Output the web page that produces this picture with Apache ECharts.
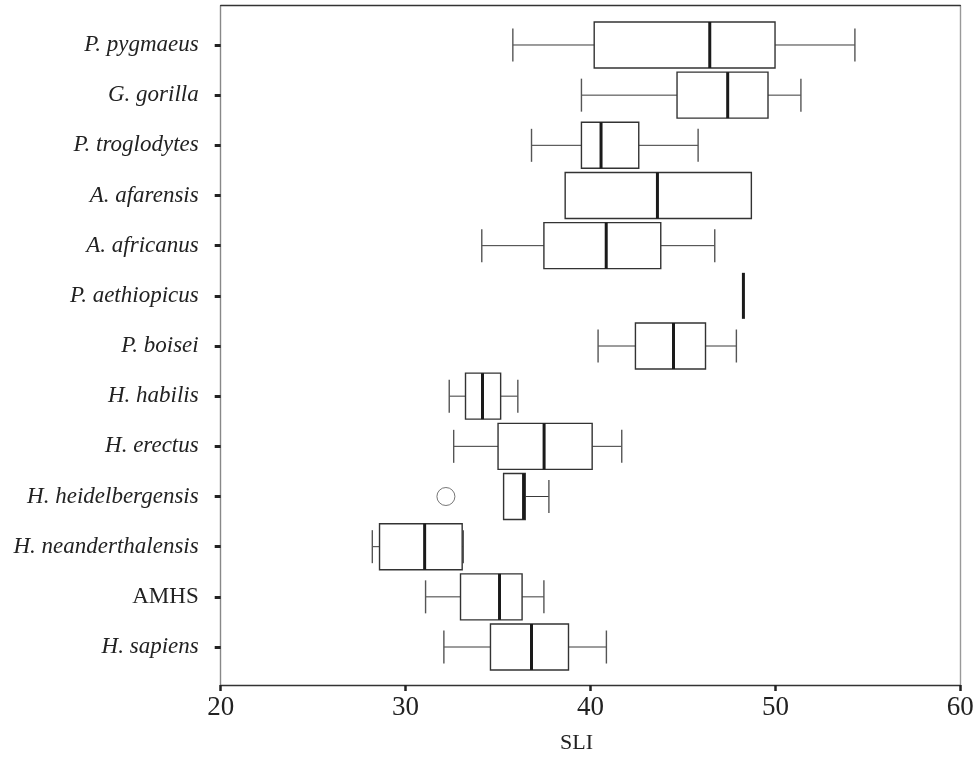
<!DOCTYPE html>
<html>
<head>
<meta charset="utf-8">
<style>
  html, body { margin: 0; padding: 0; background: #fff; }
  #chart-container { width: 979px; height: 759px; }
</style>
<script src="https://cdn.jsdelivr.net/npm/echarts@6/dist/echarts.min.js"></script>
</head>
<body>
<div id="chart-container"></div>
<script>
// species from top to bottom
const species = [
    'P. pygmaeus', 'G. gorilla', 'P. troglodytes', 'A. afarensis',
    'A. africanus', 'P. aethiopicus', 'P. boisei', 'H. habilis',
    'H. erectus', 'H. heidelbergensis', 'H. neanderthalensis', 'AMHS',
    'H. sapiens'
];
const whiskerLow = [35.8, 39.51, 36.81, 38.63, 34.12, 48.27, 40.41, 32.36, 32.6, 35.3, 28.2, 31.08, 32.07];
const q1 = [40.2, 44.68, 39.51, 38.63, 37.48, 48.27, 42.43, 33.24, 35.0, 35.3, 28.59, 32.97, 34.59];
const median = [46.45, 47.42, 40.57, 43.62, 40.85, 48.27, 44.49, 34.16, 37.49, 36.38, 31.03, 35.08, 36.81];
const q3 = [49.98, 49.6, 42.61, 48.7, 43.8, 48.27, 46.22, 35.14, 40.09, 36.47, 33.06, 36.3, 38.81];
const whiskerHigh = [54.3, 51.38, 45.82, 48.7, 46.72, 48.27, 47.89, 36.07, 41.69, 37.75, 33.12, 37.48, 40.86];
// outliers: [SLI, species]
const outliers = [[32.18, 'H. heidelbergensis']];
const xTicks = { min: 20, max: 60, interval: 10 };

var dom = document.getElementById('chart-container');
var myChart = echarts.init(dom, null, { renderer: 'canvas' });
var option;

const serif = 'Liberation Serif';
const boxHalf = 23;
const capHalf = 16.5;

const boxData = species.map(function (name, i) {
    return [i, whiskerLow[i], q1[i], median[i], q3[i], whiskerHigh[i]];
});

const renderBox = function (param, api) {
    const idx = api.value(0);
    const lo = api.coord([api.value(1), idx]);
    const b1 = api.coord([api.value(2), idx]);
    const md = api.coord([api.value(3), idx]);
    const b3 = api.coord([api.value(4), idx]);
    const hi = api.coord([api.value(5), idx]);
    const y = md[1];
    const children = [];
    const thin = { stroke: '#3a3a3a', lineWidth: 1 };
    const cap = { stroke: '#555', lineWidth: 1.4 };
    if (b1[0] - lo[0] > 0.5) {
        children.push({ type: 'line', shape: { x1: lo[0], y1: y, x2: b1[0], y2: y }, style: thin });
        children.push({ type: 'line', shape: { x1: lo[0], y1: y - capHalf, x2: lo[0], y2: y + capHalf }, style: cap });
    }
    if (hi[0] - b3[0] > 0.5) {
        children.push({ type: 'line', shape: { x1: b3[0], y1: y, x2: hi[0], y2: y }, style: thin });
        children.push({ type: 'line', shape: { x1: hi[0], y1: y - capHalf, x2: hi[0], y2: y + capHalf }, style: cap });
    }
    if (b3[0] - b1[0] > 0.5) {
        children.push({
            type: 'rect',
            shape: { x: b1[0], y: y - boxHalf, width: b3[0] - b1[0], height: boxHalf * 2 },
            style: { fill: '#fff', stroke: '#333', lineWidth: 1.4 }
        });
    }
    children.push({
        type: 'line',
        shape: { x1: md[0], y1: y - boxHalf, x2: md[0], y2: y + boxHalf },
        style: { stroke: '#1a1a1a', lineWidth: 3 }
    });
    return { type: 'group', children: children };
};

option = {
    backgroundColor: '#fff',
    animation: false,
    grid: [
        { left: 220.7, right: 18.7, top: 5.7, bottom: 72.3 },
        { left: 220.7, right: 18.7, top: 19.9, height: 652.2 }
    ],
    xAxis: [
        {
            gridIndex: 0,
            type: 'value',
            min: xTicks.min,
            max: xTicks.max,
            interval: xTicks.interval,
            position: 'bottom',
            name: 'SLI',
            nameLocation: 'middle',
            nameGap: 47,
            nameTextStyle: { fontFamily: serif, fontSize: 22, color: '#222', padding: [0, 28, 0, 0] },
            axisLine: { show: true, onZero: false, lineStyle: { color: '#333', width: 1.4 } },
            axisTick: { show: true, length: 6, lineStyle: { color: '#222', width: 2.5 } },
            axisLabel: { fontFamily: serif, fontSize: 27, color: '#222', margin: 9 },
            splitLine: { show: false }
        },
        {
            gridIndex: 0,
            type: 'value',
            min: xTicks.min,
            max: xTicks.max,
            position: 'top',
            axisLine: { show: true, onZero: false, lineStyle: { color: '#333', width: 1.4 } },
            axisTick: { show: false },
            axisLabel: { show: false },
            splitLine: { show: false }
        },
        {
            gridIndex: 1,
            type: 'value',
            min: xTicks.min,
            max: xTicks.max,
            show: false
        }
    ],
    yAxis: [
        {
            gridIndex: 0,
            type: 'value',
            position: 'left',
            axisLine: { show: true, onZero: false, lineStyle: { color: '#888', width: 1.4 } },
            axisTick: { show: false },
            axisLabel: { show: false },
            splitLine: { show: false }
        },
        {
            gridIndex: 0,
            type: 'value',
            position: 'right',
            axisLine: { show: true, onZero: false, lineStyle: { color: '#999', width: 1.4 } },
            axisTick: { show: false },
            axisLabel: { show: false },
            splitLine: { show: false }
        },
        {
            gridIndex: 1,
            type: 'category',
            data: species,
            inverse: true,
            axisLine: { show: false },
            axisTick: { show: true, alignWithLabel: true, length: 6, lineStyle: { color: '#222', width: 3 } },
            axisLabel: {
                margin: 22,
                formatter: function (v) {
                    return v === 'AMHS' ? '{n|' + v + '}' : '{i|' + v + '}';
                },
                rich: {
                    i: { fontFamily: serif, fontStyle: 'italic', fontSize: 23, color: '#222' },
                    n: { fontFamily: serif, fontSize: 23, color: '#222' }
                }
            },
            splitLine: { show: false }
        }
    ],
    series: [
        {
            type: 'custom',
            xAxisIndex: 2,
            yAxisIndex: 2,
            renderItem: renderBox,
            encode: { x: [1, 2, 3, 4, 5], y: 0 },
            data: boxData,
            z: 5
        },
        {
            type: 'scatter',
            xAxisIndex: 2,
            yAxisIndex: 2,
            symbol: 'circle',
            symbolSize: 18,
            itemStyle: { color: '#fff', borderColor: '#555', borderWidth: 1 },
            data: outliers,
            z: 6
        }
    ]
};

option && myChart.setOption(option);
</script>
</body>
</html>
